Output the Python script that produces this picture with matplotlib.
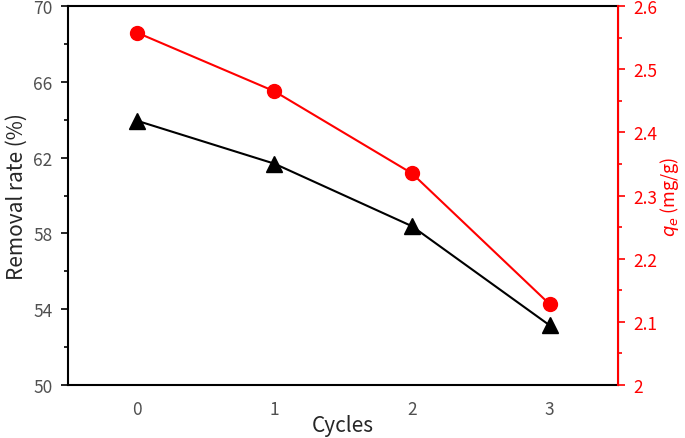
import matplotlib.pyplot as plt

plt.rcParams['font.family'] = ['Noto Sans CJK SC', 'DejaVu Sans']

# Data
cycles = [0, 1, 2, 3]
removal_rate = [63.95, 61.68, 58.38, 53.15]   # %
qe = [2.558, 2.465, 2.335, 2.128]             # mg/g

left_ticks = [50, 54, 58, 62, 66, 70]
left_minor = [52, 56, 60, 64, 68]
right_ticks = [2.0, 2.1, 2.2, 2.3, 2.4, 2.5, 2.6]
right_labels = ['2', '2.1', '2.2', '2.3', '2.4', '2.5', '2.6']
right_minor = [2.05, 2.15, 2.25, 2.35, 2.45, 2.55]

fig = plt.figure(figsize=(6.85, 4.39), dpi=100)
ax = fig.add_axes([0.0993, 0.1207, 0.8035, 0.8633])
ax2 = ax.twinx()

# Left axis: removal rate
ax.plot(cycles, removal_rate, color='black', lw=1.5, marker='^', ms=12, zorder=3)
ax.set_xlim(-0.5, 3.5)
ax.set_ylim(50, 70)
ax.set_yticks(left_ticks)
ax.set_yticks(left_minor, minor=True)
ax.set_xticks(cycles)
ax.tick_params(axis='x', length=0, pad=11, labelsize=12.5, labelcolor='#505050')
ax.tick_params(axis='y', which='major', direction='out', length=5, width=1.2,
               pad=6, labelsize=12.5, labelcolor='#505050')
ax.tick_params(axis='y', which='minor', direction='out', length=3, width=1.2)
ax.set_xlabel('Cycles', fontsize=15, color='#262626', labelpad=-3)
ax.set_ylabel('Removal rate (%)', fontsize=15, color='#262626', labelpad=4)
for side in ['left', 'top', 'bottom']:
    ax.spines[side].set_linewidth(1.5)

# Right axis: adsorption capacity
ax2.plot(cycles, qe, color='red', lw=1.5, marker='o', ms=10, zorder=3)
ax2.set_ylim(2.0, 2.6)
ax2.set_yticks(right_ticks)
ax2.set_yticklabels(right_labels)
ax2.set_yticks(right_minor, minor=True)
ax2.tick_params(axis='y', which='major', direction='out', length=5, width=1.2,
                pad=6, colors='red', labelsize=12.5)
ax2.tick_params(axis='y', which='minor', direction='out', length=3, width=1.2, colors='red')
ax2.set_ylabel(r'$q_e$ (mg/g)', fontsize=13, color='red', labelpad=0)
ax2.spines['right'].set_color('red')
ax2.spines['right'].set_linewidth(1.5)
for side in ['left', 'top', 'bottom']:
    ax2.spines[side].set_visible(False)

fig.savefig('out.png', dpi=100)
